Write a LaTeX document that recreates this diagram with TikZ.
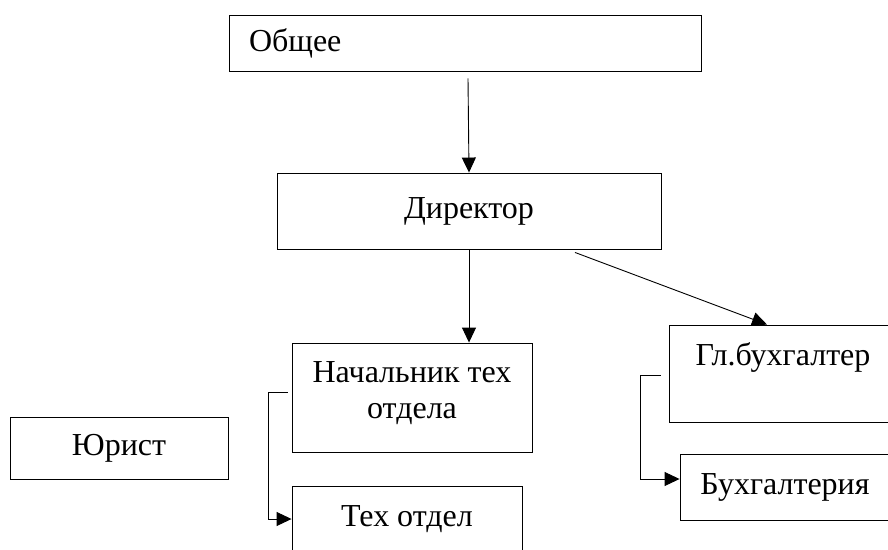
\documentclass[tikz,border=0pt]{standalone}
\usepackage{fontspec}
\setmainfont{Liberation Serif}
\usepackage{tikz}
\usetikzlibrary{arrows.meta,positioning}
\tikzstyle{link} = [line width=0.9pt,-{Triangle[length=15pt,width=14pt]}]
\tikzstyle{unit} = [rectangle, draw, line width=0.9pt, inner sep=0pt, align=center, font=\fontsize{32}{36}\selectfont]
\tikzstyle{toptext} = [anchor=north, inner sep=0pt, align=center, font=\fontsize{32}{36}\selectfont]

\begin{document}
\begin{tikzpicture}[x=1pt, y=-1pt]
\useasboundingbox (0,0) rectangle (888,549);
\clip (0,0) rectangle (888,549);
% boxes
\node (obsh) [unit, minimum width=472pt, minimum height=56pt, text width=432pt, align=left] at (465,43) {Общее};
\node (dir) [unit, minimum width=384pt, minimum height=76pt] at (469,211) {Директор};
\node (nach) [unit, minimum width=240pt, minimum height=109pt, label={[toptext, yshift=-19pt]north:Начальник тех\\отдела}] at (412,397.5) {};
\node (tech) [unit, minimum width=230pt, minimum height=66pt] at (407,519) {Тех отдел};
\node (glb) [unit, minimum width=228pt, minimum height=97pt, label={[toptext, yshift=-18pt]north:Гл.бухгалтер}] at (783,373.5) {};
\node (buh) [unit, minimum width=210pt, minimum height=66pt] at (785,487) {Бухгалтерия};
\node (yur) [unit, minimum width=218pt, minimum height=62pt] at (119,448) {Юрист};

% links
\draw[link] ([xshift=3pt,yshift=-7pt]obsh.south) -- (dir.north);
\draw[link] (dir.south) -- (dir.south |- nach.north);
\draw[link] ([xshift=106pt,yshift=-3pt]dir.south) -- ([xshift=-16pt]glb.north);
\draw[link] ([xshift=-4pt,yshift=5pt]nach.west) -- ++(-19,0) |- (tech.west);
\draw[link] ([xshift=-8pt,yshift=-2pt]glb.west) -- ++(-20,0) |- ([yshift=8pt]buh.west);
\end{tikzpicture}
\end{document}
